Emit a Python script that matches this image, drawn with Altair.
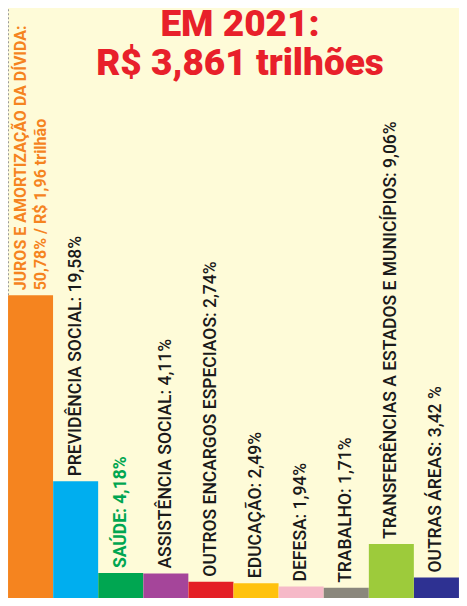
import altair as alt
import pandas as pd

categories = ["JUROS", "PREVIDENCIA", "SAUDE", "ASSISTENCIA", "ENCARGOS",
              "EDUCACAO", "DEFESA", "TRABALHO", "TRANSFERENCIAS", "OUTRAS"]
values = [50.78, 19.58, 4.18, 4.11, 2.74, 2.49, 1.94, 1.71, 9.06, 3.42]
labels = ["", "PREVIDÊNCIA SOCIAL: 19,58%", "SAÚDE: 4,18%", "ASSISTÊNCIA SOCIAL: 4,11%",
          "OUTROS ENCARGOS ESPECIAOS: 2,74%", "EDUCAÇÃO: 2,49%", "DEFESA: 1,94%",
          "TRABALHO: 1,71%", "TRANSFERÊNCIAS A ESTADOS E MUNICÍPIOS: 9,06%",
          "OUTRAS ÁREAS: 3,42 %"]
colors = ["#F5841F", "#00AEEF", "#00A651", "#A5459A", "#E41F26",
          "#FFC20E", "#F6B9C8", "#8A877C", "#9DCB3B", "#2E3192"]
juros_lines = ["JUROS E AMORTIZAÇÃO DA DÍVIDA:", "50,78% / R$ 1,96 trilhão"]
title_lines = ["EM 2021:", "R$ 3,861 trilhões"]

df = pd.DataFrame({"cat": categories, "value": values, "label": labels, "color": colors})

LABEL_FONT = "Roboto, sans-serif"

x = alt.X("cat:N", sort=categories, axis=None,
          scale=alt.Scale(paddingInner=0, paddingOuter=0))
y = alt.Y("value:Q", axis=None, scale=alt.Scale(domain=[0, 99]))

base = alt.Chart(df)

bars = base.mark_bar(size=45).encode(
    x=x, y=y, color=alt.Color("color:N", scale=None)
)

regular = base.transform_filter(
    (alt.datum.cat != "JUROS") & (alt.datum.cat != "SAUDE")
).mark_text(angle=270, align="left", baseline="middle", dx=5,
            font=LABEL_FONT, fontSize=17.5, fontWeight=500, color="#1a1a1a").encode(
    x=x, y=y, text="label:N"
)

saude = base.transform_filter(alt.datum.cat == "SAUDE").mark_text(
    angle=270, align="left", baseline="middle", dx=5,
    font=LABEL_FONT, fontSize=17.5, fontWeight="bold", color="#00A651"
).encode(x=x, y=y, text="label:N")

juros_df = df[df.cat == "JUROS"].copy()
juros_df["l1"] = juros_lines[0]
juros_df["l2"] = juros_lines[1]
jbase = alt.Chart(juros_df)
j1 = jbase.mark_text(angle=270, align="left", baseline="middle", dx=5, dy=-10,
                     font=LABEL_FONT, fontSize=16, fontWeight="bold",
                     color="#F5841F").encode(x=x, y=y, text="l1:N")
j2 = jbase.mark_text(angle=270, align="left", baseline="middle", dx=5, dy=10,
                     font=LABEL_FONT, fontSize=16, fontWeight="bold",
                     color="#F5841F").encode(x=x, y=y, text="l2:N")
dots = jbase.mark_rule(color="#9a9a9a", strokeWidth=2, strokeDash=[2, 2]).encode(
    x=alt.value(0), y=y, y2=alt.value(0)
)

tdf = pd.DataFrame({"k": [0]})
title = alt.Chart(tdf).mark_text(font="Roboto", fontSize=37, fontWeight=900,
                                 lineHeight=39, color="#E8202A", align="center",
                                 baseline="alphabetic").encode(
    x=alt.value(232), y=alt.value(28), text=alt.value(title_lines))

chart = alt.layer(bars, dots, regular, saude, j1, j2, title).properties(
    width=451, height=590,
    autosize=alt.AutoSizeParams(type="none"),
    padding=0,
    background="#FEFBD8",
).configure_view(stroke=None)

chart.save("out.html", embed_options={"renderer": "svg", "actions": False})
